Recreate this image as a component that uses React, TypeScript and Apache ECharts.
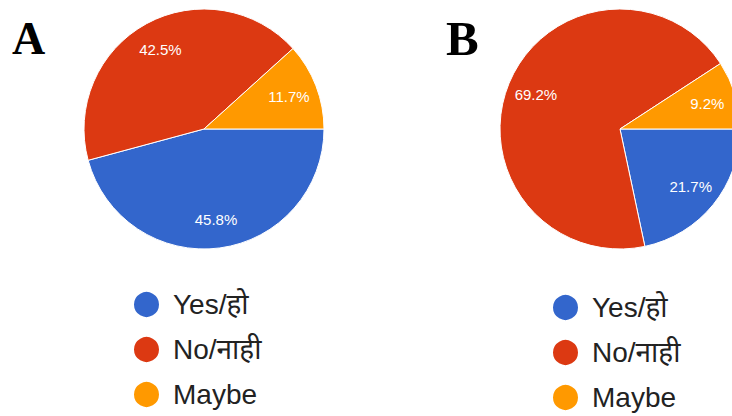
import React, { useEffect, useRef } from "react";
import * as echarts from "echarts";

// Survey answers
const categories = ["Yes/हो", "No/नाही", "Maybe"];
const colors = ["#3366CC", "#DC3912", "#FF9900"];
const valuesA = [45.8, 42.5, 11.7];
const valuesB = [21.7, 69.2, 9.2];
const panelLabels = ["A", "B"];

const SANS = "Arial, 'Liberation Sans', 'Noto Sans', 'Noto Sans Devanagari', sans-serif";

function pieData(values: number[]) {
  return categories.map((name, i) => ({
    name,
    value: values[i],
    itemStyle: { color: colors[i] },
  }));
}

function pieSeries(values: number[], center: [number, number]) {
  return [
    {
      type: "pie",
      center,
      radius: [0, 120],
      startAngle: 0,
      clockwise: true,
      data: pieData(values),
      label: { show: false },
      labelLine: { show: false },
      itemStyle: { borderColor: "#ffffff", borderWidth: 1 },
      emphasis: { disabled: true },
      silent: true,
    },
    {
      // transparent ring that only carries the percentage labels
      type: "pie",
      center,
      radius: [56, 120],
      startAngle: 0,
      clockwise: true,
      data: pieData(values).map((d) => ({ ...d, itemStyle: { color: "rgba(0,0,0,0)" } })),
      label: {
        show: true,
        position: "inside",
        formatter: (p: any) => `${p.value.toFixed(1)}%`,
        color: "#ffffff",
        fontFamily: SANS,
        fontSize: 15,
      },
      labelLine: { show: false },
      itemStyle: { borderWidth: 0 },
      emphasis: { disabled: true },
      silent: true,
    },
  ];
}

function legendAt(left: number, top: number) {
  return {
    orient: "vertical",
    left,
    top,
    height: 200,
    padding: 0,
    icon: "circle",
    itemWidth: 27,
    itemHeight: 27,
    itemGap: 16,
    selectedMode: false,
    data: categories.map((name, i) => ({ name, itemStyle: { color: colors[i] } })),
    textStyle: {
      fontFamily: SANS,
      fontSize: 28,
      color: "#222222",
      padding: [0, 0, 0, 8],
    },
  };
}

export default function App() {
  const ref = useRef<HTMLDivElement>(null);

  useEffect(() => {
    if (!ref.current) return;
    const chart = echarts.init(ref.current, undefined, { renderer: "svg" });
    chart.setOption({
      animation: false,
      backgroundColor: "#ffffff",
      legend: [legendAt(132, 290), legendAt(551, 293)],
      series: [...pieSeries(valuesA, [204, 129]), ...pieSeries(valuesB, [620, 129])],
      graphic: [
        {
          type: "text",
          left: 12,
          top: 15,
          style: {
            text: panelLabels[0],
            font: "bold 46px 'Times New Roman', 'Liberation Serif', serif",
            fill: "#000000",
          },
        },
        {
          type: "text",
          left: 446,
          top: 14,
          style: {
            text: panelLabels[1],
            font: "bold 49px 'Times New Roman', 'Liberation Serif', serif",
            fill: "#000000",
          },
        },
      ],
    });
    return () => chart.dispose();
  }, []);

  return (
    <div
      ref={ref}
      style={{ position: "fixed", left: 0, top: 0, width: 732, height: 416 }}
    />
  );
}
